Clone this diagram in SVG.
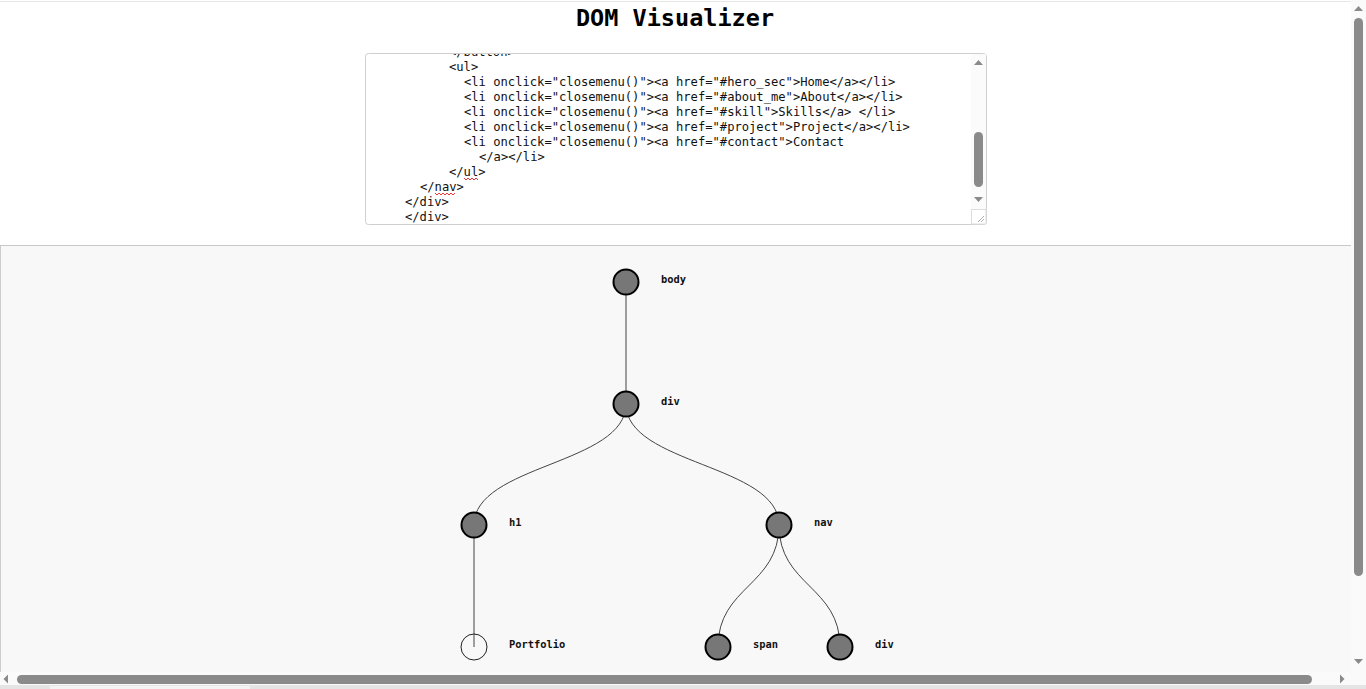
<svg xmlns="http://www.w3.org/2000/svg" width="1366" height="689" viewBox="0 0 1366 689">
<style>
.code{font-family:"DejaVu Sans Mono","Liberation Mono",monospace;font-size:12.15px;fill:#111;white-space:pre}
.lbl{font-family:"DejaVu Sans Mono","Liberation Mono",monospace;font-size:10.4px;font-weight:bold;fill:#111}
.node{fill:#777;stroke:#000;stroke-width:2}
.leaf{fill:none;stroke:#222;stroke-width:1}
.link{fill:none;stroke:#444;stroke-width:1}
.sb{fill:#8a8a8a}
.arr{fill:#8a8a8a}
.squig{fill:none;stroke:#e33;stroke-width:1}
</style>
<defs>
<clipPath id="taclip"><rect x="366" y="54" width="605" height="170"/></clipPath>
</defs>
<rect x="0" y="0" width="1366" height="689" fill="#fff"/>
<line x1="0" y1="1.5" x2="1352" y2="1.5" stroke="#e6e6e6" stroke-width="1"/>
<text x="675" y="26" text-anchor="middle" font-family="DejaVu Sans Mono,Liberation Mono,monospace" font-weight="bold" font-size="23.5" fill="#000">DOM Visualizer</text>

<g id="textarea">
<rect x="365.5" y="53.5" width="621" height="171" rx="3" fill="#fff" stroke="#cfcfcf"/>
<g clip-path="url(#taclip)">
<text class="code" x="449" y="55.5">&lt;/button&gt;</text>
<text class="code" x="449" y="70.5">&lt;ul&gt;</text>
<text class="code" x="464" y="85.5">&lt;li onclick="closemenu()"&gt;&lt;a href="#hero_sec"&gt;Home&lt;/a&gt;&lt;/li&gt;</text>
<text class="code" x="464" y="100.5">&lt;li onclick="closemenu()"&gt;&lt;a href="#about_me"&gt;About&lt;/a&gt;&lt;/li&gt;</text>
<text class="code" x="464" y="115.5">&lt;li onclick="closemenu()"&gt;&lt;a href="#skill"&gt;Skills&lt;/a&gt; &lt;/li&gt;</text>
<text class="code" x="464" y="130.5">&lt;li onclick="closemenu()"&gt;&lt;a href="#project"&gt;Project&lt;/a&gt;&lt;/li&gt;</text>
<text class="code" x="464" y="145.5">&lt;li onclick="closemenu()"&gt;&lt;a href="#contact"&gt;Contact</text>
<text class="code" x="479" y="160.5">&lt;/a&gt;&lt;/li&gt;</text>
<text class="code" x="449" y="175.5">&lt;/ul&gt;</text>
<text class="code" x="420" y="190.5">&lt;/nav&gt;</text>
<text class="code" x="405" y="205.5">&lt;/div&gt;</text>
<text class="code" x="405" y="220.5">&lt;/div&gt;</text>
</g>
<path class="squig" d="M464,178 l2,2 l2,-2 l2,2 l2,-2 l2,2 l2,-2 l2,2"/>
<path class="squig" d="M435,193 l2,2 l2,-2 l2,2 l2,-2 l2,2 l2,-2 l2,2 l2,-2 l2,2 l2,-2"/>
<rect x="971" y="54" width="15" height="155" fill="#fbfbfb"/>
<path class="arr" d="M974,65 l4.5,-5 l4.5,5z"/>
<path class="arr" d="M974,197 l4.5,5 l4.5,-5z"/>
<rect class="sb" x="974" y="132" width="9" height="55" rx="4.5"/>
<rect x="971.5" y="209.5" width="14.5" height="14.5" fill="#fff" stroke="#ddd"/>
<path d="M978,222 l6,-6 M981,222 l3,-3" stroke="#999" stroke-width="0.8"/>
</g>

<rect x="0" y="246" width="1351" height="426" fill="#f8f8f8"/>
<line x1="0" y1="245.5" x2="1351" y2="245.5" stroke="#c8c8c8"/>
<line x1="0.5" y1="246" x2="0.5" y2="672" stroke="#ccc"/>

<g id="links">
<path class="link" d="M626,282 L626,404"/>
<path class="link" d="M626,404 C626,464.5 474,464.5 474,525"/>
<path class="link" d="M626,404 C626,464.5 779,464.5 779,525"/>
<path class="link" d="M474,525 L474,647"/>
<path class="link" d="M779,525 C779,586 718,586 718,647"/>
<path class="link" d="M779,525 C779,586 840,586 840,647"/>
</g>

<g id="node-body"><circle class="node" cx="626" cy="282" r="12.5"/><text class="lbl" x="661" y="282.5">body</text></g>
<g id="node-div"><circle class="node" cx="626" cy="404" r="12.5"/><text class="lbl" x="661" y="404.5">div</text></g>
<g id="node-h1"><circle class="node" cx="474" cy="525" r="12.5"/><text class="lbl" x="509" y="525.5">h1</text></g>
<g id="node-nav"><circle class="node" cx="779" cy="525" r="12.5"/><text class="lbl" x="814" y="525.5">nav</text></g>
<g id="node-portfolio"><circle class="leaf" cx="474" cy="647" r="13"/><text class="lbl" x="509" y="648">Portfolio</text></g>
<g id="node-span"><circle class="node" cx="718" cy="647" r="12.5"/><text class="lbl" x="753" y="648">span</text></g>
<g id="node-div2"><circle class="node" cx="840" cy="647" r="12.5"/><text class="lbl" x="875" y="648">div</text></g>

<g id="scrollbars">
<rect x="1351" y="0" width="15" height="672" fill="#fafafa"/>
<path class="arr" d="M1354,11 l4.5,-5 l4.5,5z"/>
<path class="arr" d="M1354,659 l4.5,5 l4.5,-5z"/>
<rect class="sb" x="1354" y="18" width="9" height="558" rx="4.5"/>
<rect x="0" y="672" width="1366" height="13" fill="#fafafa"/>
<path class="arr" d="M8,674.5 l-4.5,4.5 l4.5,4.5z"/>
<rect class="sb" x="17" y="675" width="1295" height="9" rx="4.5"/>
<path class="arr" d="M1340,674.5 l4.5,4.5 l-4.5,4.5z"/>
<rect x="0" y="685" width="1366" height="4" fill="#e4e4e4"/>
<rect x="50" y="686" width="200" height="3" fill="#f4f4f4"/>
</g>
</svg>
